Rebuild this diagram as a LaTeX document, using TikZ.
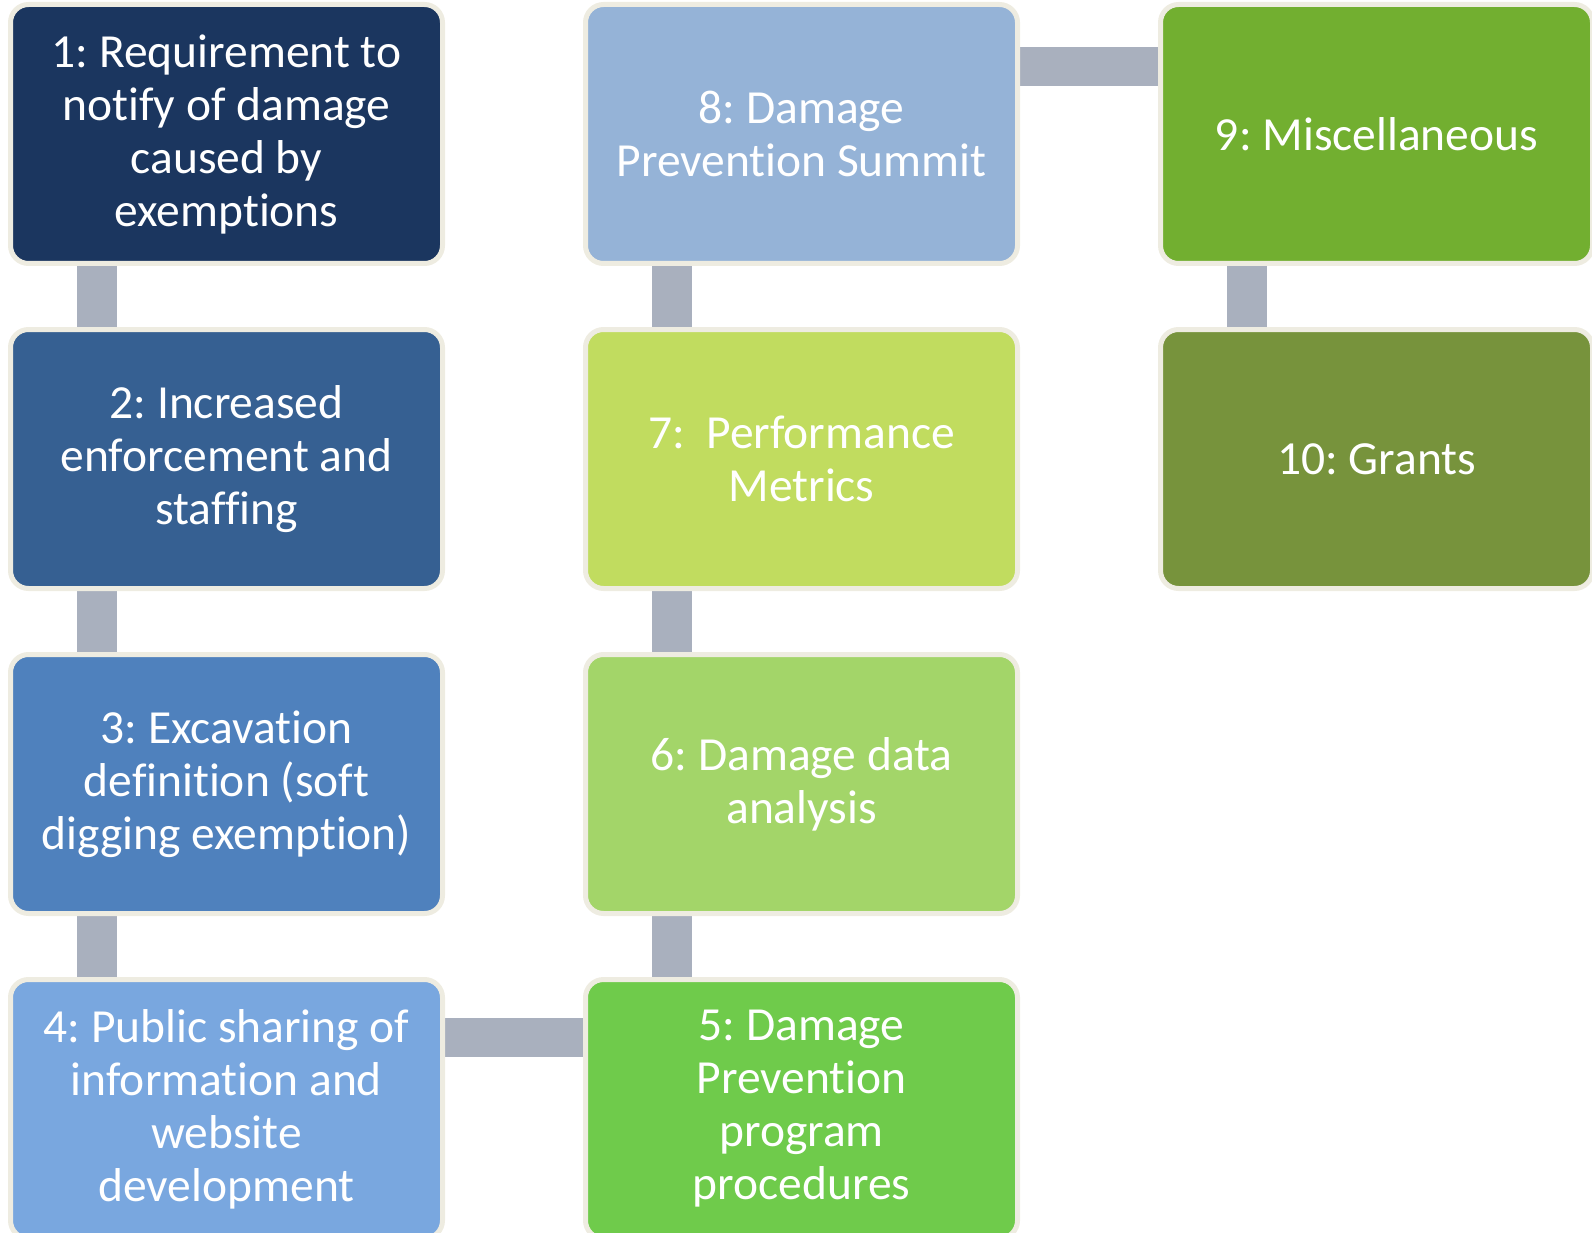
\documentclass[tikz,border=0pt]{standalone}
\usepackage{fontspec}
\setmainfont[Ligatures=CommonOff]{Carlito}
\usetikzlibrary{backgrounds}
\definecolor{cA}{HTML}{1B365F}
\definecolor{cB}{HTML}{366092}
\definecolor{cC}{HTML}{4F81BD}
\definecolor{cD}{HTML}{79A7DF}
\definecolor{cE}{HTML}{6FCB4B}
\definecolor{cF}{HTML}{A3D569}
\definecolor{cG}{HTML}{C1DC5F}
\definecolor{cH}{HTML}{95B3D7}
\definecolor{cI}{HTML}{72AF30}
\definecolor{cJ}{HTML}{77933C}
\definecolor{rim}{HTML}{EEECE1}
\definecolor{link}{HTML}{A9B0BE}
\frenchspacing
\tikzset{
  box/.style={draw=rim, line width=5pt, rounded corners=18pt,
    minimum width=432pt, minimum height=259pt, inner sep=0pt,
    text=white, align=center, font=\fontsize{47.5}{53}\selectfont},
  vlink/.style={draw=link, line width=40pt},
  hlink/.style={draw=link, line width=39pt},
}
\begin{document}
\begin{tikzpicture}[x=1pt,y=-1pt]
\useasboundingbox (0,0) rectangle (1592,1233);
\node[box, fill=cA] (b1) at (226.5,134) {1: Requirement to\\notify of damage\\caused by\\exemptions};
\node[box, fill=cB] (b2) at (226.5,459) {2: Increased\\enforcement and\\staffing};
\node[box, fill=cC] (b3) at (226.5,784) {3: Excavation\\definition (soft\\digging exemption)};
\node[box, fill=cD] (b4) at (226.5,1109) {4: Public sharing of\\information and\\website\\development};
\node[box, fill=cE] (b5) at (801.5,1109) {5: Damage\\Prevention\\program\\procedures};
\node[box, fill=cF] (b6) at (801.5,784) {6: Damage data\\analysis};
\node[box, fill=cG] (b7) at (801.5,459) {7:\ \ Performance\\Metrics};
\node[box, fill=cH] (b8) at (801.5,134) {8: Damage\\Prevention Summit};
\node[box, fill=cI] (b9) at (1376.5,134) {9: Miscellaneous};
\node[box, fill=cJ] (b10) at (1376.5,459) {10: Grants};
\begin{scope}[on background layer]
\draw[vlink] ([xshift=89pt]b1.south west) -- ([xshift=89pt]b2.north west);
\draw[vlink] ([xshift=89pt]b2.south west) -- ([xshift=89pt]b3.north west);
\draw[vlink] ([xshift=89pt]b3.south west) -- ([xshift=89pt]b4.north west);
\draw[hlink] ([yshift=-60pt]b4.north east) -- ([yshift=-60pt]b5.north west);
\draw[vlink] ([xshift=89pt]b5.north west) -- ([xshift=89pt]b6.south west);
\draw[vlink] ([xshift=89pt]b6.north west) -- ([xshift=89pt]b7.south west);
\draw[vlink] ([xshift=89pt]b7.north west) -- ([xshift=89pt]b8.south west);
\draw[hlink] ([yshift=-65pt]b8.north east) -- ([yshift=-65pt]b9.north west);
\draw[vlink] ([xshift=89pt]b9.south west) -- ([xshift=89pt]b10.north west);
\end{scope}
\end{tikzpicture}
\end{document}
